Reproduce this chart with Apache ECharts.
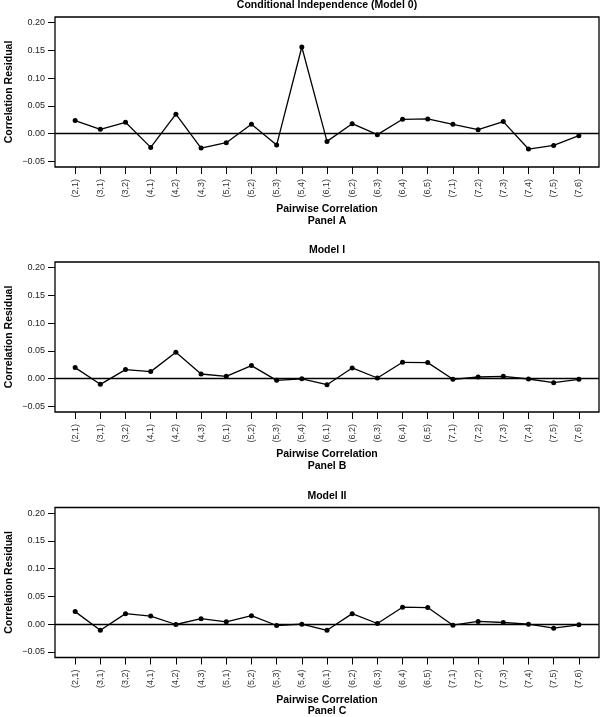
<!DOCTYPE html>
<html><head><meta charset="utf-8">
<script src="https://cdn.jsdelivr.net/npm/echarts@6/dist/echarts.min.js"></script>
<style>html,body{margin:0;padding:0;background:#fff}#c{width:600px;height:717px}</style>
</head><body><div id="c"></div>
<script>
const categories = ['(2,1)','(3,1)','(3,2)','(4,1)','(4,2)','(4,3)','(5,1)','(5,2)','(5,3)','(5,4)','(6,1)','(6,2)','(6,3)','(6,4)','(6,5)','(7,1)','(7,2)','(7,3)','(7,4)','(7,5)','(7,6)'];
const model0 = [0.0235,0.0078,0.0205,-0.0247,0.035,-0.026,-0.0163,0.0169,-0.0205,0.156,-0.0139,0.018,-0.0018,0.0259,0.0265,0.0169,0.0072,0.0217,-0.0277,-0.0211,-0.0036];
const model1 = [0.0199,-0.0102,0.0163,0.0127,0.0476,0.0084,0.0042,0.0235,-0.003,-0.0003,-0.0108,0.0193,0.0012,0.0295,0.0289,-0.0012,0.003,0.0042,-0.0006,-0.0072,-0.0012];
const model2 = [0.0226,-0.011,0.0189,0.0146,-0.0006,0.0098,0.0043,0.0152,-0.0024,0.0,-0.011,0.0189,0.0012,0.0305,0.0299,-0.0018,0.0049,0.003,0.0,-0.0073,-0.0012];
const yTickValues = [-0.05,0,0.05,0.10,0.15,0.20];
const yTickLabels = ['\u22120.05','0.00','0.05','0.10','0.15','0.20'];
const panelTitles = ['Conditional Independence (Model 0)','Model I','Model II'];
const panelLabels = ['Panel A','Panel B','Panel C'];
const xTitle = 'Pairwise Correlation';
const yTitle = 'Correlation Residual';
const seriesData = [model0, model1, model2];

const FONT = '"Liberation Sans", Arial, Helvetica, sans-serif';
const tops = [17, 262, 507.5];
const H = 150, L = 55, R = 599;
const cx = (L + R) / 2;

const grids = [], xAxes = [], yAxes = [], series = [], graphics = [];
tops.forEach((t, i) => {
  grids.push({left: L, top: t, width: R - L, height: H, show: true, borderColor: '#000', borderWidth: 1.3, backgroundColor: 'transparent'});
  xAxes.push({
    type: 'value', gridIndex: i, min: 0.2, max: 21.8, position: 'bottom',
    axisLine: {show: false, onZero: false}, splitLine: {show: false},
    axisTick: {show: true, length: 7, lineStyle: {color: '#000', width: 1}, customValues: categories.map((c, k) => k + 1)},
    axisLabel: {rotate: 90, margin: 12, fontSize: 9, color: '#333', fontFamily: FONT,
      customValues: categories.map((c, k) => k + 1),
      formatter: v => categories[Math.round(v) - 1] || ''}
  });
  yAxes.push({
    type: 'value', gridIndex: i, min: -0.06, max: 0.21, position: 'left',
    axisLine: {show: false, onZero: false}, splitLine: {show: false},
    axisTick: {show: true, length: 7, lineStyle: {color: '#000', width: 1}, customValues: yTickValues},
    axisLabel: {margin: 10, fontSize: 9, color: '#222', fontFamily: FONT, customValues: yTickValues,
      formatter: v => { const k = yTickValues.findIndex(y => Math.abs(y - v) < 1e-9); return k >= 0 ? yTickLabels[k] : ''; }}
  });
  series.push({
    type: 'line', xAxisIndex: i, yAxisIndex: i,
    data: seriesData[i].map((v, k) => [k + 1, v]),
    symbol: 'circle', symbolSize: 5, showSymbol: true,
    lineStyle: {color: '#000', width: 1.3}, itemStyle: {color: '#000'},
    animation: false, z: 3,
    markLine: {silent: true, symbol: ['none', 'none'], label: {show: false},
      lineStyle: {color: '#000', width: 1.3, type: 'solid'}, data: [{yAxis: 0}], animation: false}
  });
  graphics.push({type: 'text', x: cx, y: t - 11.5, style: {text: panelTitles[i], font: 'bold 10.5px ' + FONT, fill: '#000', align: 'center', verticalAlign: 'middle'}});
  graphics.push({type: 'text', x: cx, y: t + H + 42.5, style: {text: xTitle, font: 'bold 10.5px ' + FONT, fill: '#000', align: 'center', verticalAlign: 'middle'}});
  graphics.push({type: 'text', x: cx, y: t + H + 54, style: {text: panelLabels[i], font: 'bold 10.5px ' + FONT, fill: '#000', align: 'center', verticalAlign: 'middle'}});
  graphics.push({type: 'text', x: 9, y: t + H / 2, rotation: Math.PI / 2, style: {text: yTitle, font: 'bold 10.5px ' + FONT, fill: '#000', align: 'center', verticalAlign: 'middle'}});
});

const chart = echarts.init(document.getElementById('c'), null, {renderer: 'canvas'});
chart.setOption({animation: false, grid: grids, xAxis: xAxes, yAxis: yAxes, series: series, graphic: graphics});
</script></body></html>
